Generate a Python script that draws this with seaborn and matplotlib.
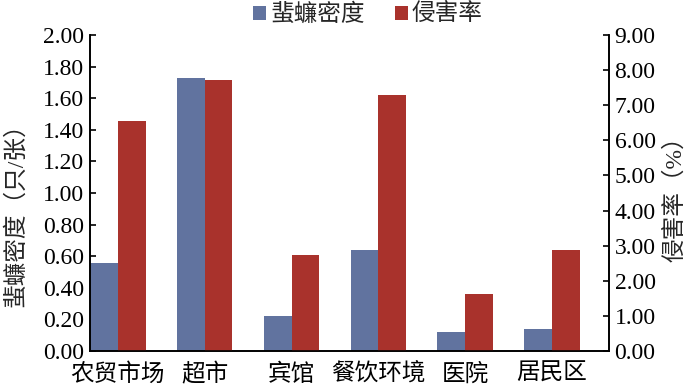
import matplotlib
matplotlib.use("Agg")
import matplotlib.pyplot as plt
from matplotlib.patches import Patch
import numpy as np
import pandas as pd
import seaborn as sns

# =========================
# DATA
# =========================

categories = ["农贸市场", "超市", "宾馆", "餐饮环境", "医院", "居民区"]
density = [0.56, 1.73, 0.22, 0.64, 0.12, 0.14]      # 蜚蠊密度 (只/张)
rate = [6.56, 7.72, 2.73, 7.30, 1.61, 2.89]          # 侵害率 (%)
series_names = ["蜚蠊密度", "侵害率"]
left_ticks = [0.0, 0.2, 0.4, 0.6, 0.8, 1.0, 1.2, 1.4, 1.6, 1.8, 2.0]
right_ticks = [0, 1, 2, 3, 4, 5, 6, 7, 8, 9]

blue = "#61739f"
red = "#a9322c"

# =========================
# STYLE
# =========================

sns.set_theme(style="ticks")
plt.rcParams["font.family"] = ["Liberation Serif", "Noto Sans CJK SC"]
plt.rcParams["axes.unicode_minus"] = False

fs = 17

# long-form tables, one per axis (other series left empty so dodge keeps slots)
df_left = pd.DataFrame({
    "类别": categories * 2,
    "系列": [series_names[0]] * 6 + [series_names[1]] * 6,
    "值": density + [np.nan] * 6,
})
df_right = pd.DataFrame({
    "类别": categories * 2,
    "系列": [series_names[0]] * 6 + [series_names[1]] * 6,
    "值": [np.nan] * 6 + rate,
})

fig = plt.figure(figsize=(7, 3.91), dpi=100)
ax = fig.add_axes([90 / 700, 40 / 391, 519 / 700, 316 / 391])
ax2 = ax.twinx()

palette = {series_names[0]: blue, series_names[1]: red}

sns.barplot(data=df_left, x="类别", y="值", hue="系列", hue_order=series_names,
            palette=palette, saturation=1, width=0.64, dodge=True, linewidth=0,
            errorbar=None, legend=False, ax=ax)
sns.barplot(data=df_right, x="类别", y="值", hue="系列", hue_order=series_names,
            palette=palette, saturation=1, width=0.64, dodge=True, linewidth=0,
            errorbar=None, legend=False, ax=ax2)

# =========================
# AXES
# =========================

ax.set_xlim(-0.32, 5.655)
ax.set_ylim(0, 2.0)
ax2.set_ylim(0, 9.0)

ax.set_yticks(left_ticks)
ax.set_yticklabels([f"{v:.2f}" for v in left_ticks], fontsize=fs)
ax2.set_yticks(right_ticks)
ax2.set_yticklabels([f"{v:.2f}" for v in right_ticks], fontsize=fs)

ax.set_xticks(range(len(categories)))
ax.set_xticklabels(categories, fontsize=fs)

ax.set_xlabel("")
ax.set_ylabel("蜚蠊密度（只/张）", fontsize=fs, labelpad=-2)
ax2.set_ylabel("侵害率（%）", fontsize=fs, rotation=90, labelpad=6)
ax.yaxis.set_label_coords(-0.122, 0.45)

for a in (ax, ax2):
    a.spines["top"].set_visible(False)
    for s in ("left", "right", "bottom"):
        a.spines[s].set_color("black")
        a.spines[s].set_linewidth(1.2)
    a.tick_params(direction="in", length=4, width=1.2, colors="black", pad=4)

ax.tick_params(axis="x", pad=9)
ax.set_facecolor("none")

# =========================
# LEGEND
# =========================

handles = [Patch(facecolor=blue, edgecolor="none"),
           Patch(facecolor=red, edgecolor="none")]
fig.legend(handles, series_names, loc="center", bbox_to_anchor=(368 / 700, 1 - 15 / 391),
           ncol=2, frameon=False, fontsize=fs, handlelength=0.55, handleheight=0.55,
           handletextpad=0.15, columnspacing=1.3, borderaxespad=0)

plt.savefig("out.png", dpi=100)
